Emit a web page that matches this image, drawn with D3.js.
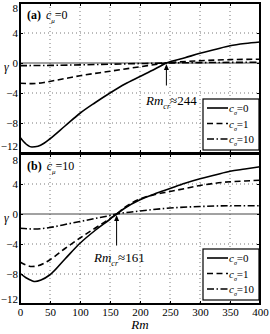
<!DOCTYPE html>
<html>
<head>
<meta charset="utf-8">
<script src="https://cdn.jsdelivr.net/npm/d3@7"></script>
<style>
  body { margin: 0; background: #fff; }
  text { font-family: "Liberation Serif", "DejaVu Serif", serif; fill: #000; }
  .grid line { stroke: #555; stroke-width: 0.8; stroke-dasharray: 1,3; }
  .axis path, .axis line { stroke: #000; }
</style>
</head>
<body>
<script>
// ---- data ----
var xTicks = [0, 50, 100, 150, 200, 250, 300, 350, 400];
var yTicks = [8, 4, 0, -4, -8, -12];

// panel (a) c_mu = 0
var rmA0 = [0, 10, 20, 30, 40, 50, 75, 100, 125, 150, 175, 200, 225, 244, 275, 300, 325, 350, 375, 400];
var gA0 = [-9.9, -10.8, -11.2, -11.1, -10.7, -10.1, -8.4, -6.7, -5.3, -4.0, -2.8, -1.8, -0.8, 0, 0.7, 1.3, 1.8, 2.3, 2.6, 2.8];
var rmA1 = [0, 20, 40, 60, 80, 100, 150, 200, 244, 300, 350, 400];
var gA1 = [-2.7, -2.75, -2.6, -2.3, -2.0, -1.7, -1.1, -0.5, 0, 0.3, 0.45, 0.5];
var rmA10 = [0, 50, 100, 150, 200, 244, 300, 400];
var gA10 = [-0.35, -0.32, -0.25, -0.16, -0.07, 0, 0.05, 0.1];

// panel (b) c_mu = 10
var rmB0 = [0, 10, 20, 25, 35, 50, 75, 100, 125, 150, 161, 175, 200, 225, 250, 275, 300, 325, 350, 375, 400];
var gB0 = [-7.9, -8.5, -8.9, -9.0, -8.8, -8.1, -6.0, -3.9, -2.2, -0.7, 0, 0.8, 1.9, 2.7, 3.4, 4.1, 4.7, 5.2, 5.7, 6.0, 6.3];
var rmB1 = [0, 10, 20, 30, 50, 75, 100, 125, 150, 161, 175, 200, 225, 250, 275, 300, 325, 350, 375, 400];
var gB1 = [-6.4, -6.8, -7.0, -6.9, -6.1, -4.6, -3.2, -1.9, -0.6, 0, 0.9, 2.0, 2.6, 3.0, 3.4, 3.8, 4.1, 4.3, 4.4, 4.5];
var rmB10 = [0, 25, 50, 75, 100, 125, 150, 161, 200, 250, 300, 350, 400];
var gB10 = [-1.9, -2.0, -1.8, -1.4, -1.0, -0.6, -0.2, 0, 0.4, 0.8, 1.0, 1.1, 1.1];

var legendLabels = ['0', '1', '10'];
var dashes = [null, '6,3.5', '7,2.5,1.5,2.5'];

var panels = [
  { tag: '(a)', cmu: '0', top: 3, rmcr: 244, series: [[rmA0, gA0], [rmA1, gA1], [rmA10, gA10]] },
  { tag: '(b)', cmu: '10', top: 154, rmcr: 161, series: [[rmB0, gB0], [rmB1, gB1], [rmB10, gB10]] }
];

var width = 270, height = 334;
var left = 20, right = 260, panelH = 150;

var svg = d3.select('body').append('svg')
  .attr('width', width)
  .attr('height', height);

var x = d3.scaleLinear().domain([0, 400]).range([left, right]);

panels.forEach(function(p, pi) {
  var y = d3.scaleLinear().domain([-12, 8]).range([p.top + panelH, p.top]);
  var g = svg.append('g');

  // dotted grid
  var grid = g.append('g').attr('class', 'grid');
  grid.selectAll('.gx').data(xTicks.slice(1, -1)).enter().append('line')
    .attr('x1', function(d) { return x(d); }).attr('x2', function(d) { return x(d); })
    .attr('y1', y(8)).attr('y2', y(-12));
  grid.selectAll('.gy').data([4, -4, -8]).enter().append('line')
    .attr('x1', x(0)).attr('x2', x(400))
    .attr('y1', function(d) { return y(d); }).attr('y2', function(d) { return y(d); });

  // zero line
  g.append('line')
    .attr('x1', x(0)).attr('x2', x(400))
    .attr('y1', y(0)).attr('y2', y(0))
    .attr('stroke', '#444').attr('stroke-width', 1);

  // curves
  var line = d3.line()
    .x(function(d) { return x(d[0]); })
    .y(function(d) { return y(d[1]); })
    .curve(d3.curveMonotoneX);

  p.series.forEach(function(s, i) {
    var pts = s[0].map(function(r, k) { return [r, s[1][k]]; });
    g.append('path')
      .datum(pts)
      .attr('d', line)
      .attr('fill', 'none')
      .attr('stroke', '#000')
      .attr('stroke-width', 1.6)
      .attr('stroke-dasharray', dashes[i]);
  });

  // axes with inward ticks
  var yAxisL = d3.axisLeft(y).tickValues(yTicks).tickSize(-3).tickPadding(2).tickFormat(d3.format('d'));
  var yAxisR = d3.axisRight(y).tickValues(yTicks).tickSize(-3).tickFormat('');
  var xAxisT = d3.axisTop(x).tickValues(xTicks).tickSize(-3).tickFormat('');
  var xAxisB = d3.axisBottom(x).tickValues(xTicks).tickSize(-3).tickPadding(4)
    .tickFormat(pi === 1 ? d3.format('d') : '');

  var yl = g.append('g').attr('class', 'axis').attr('transform', 'translate(' + left + ',0)').call(yAxisL);
  // nudge the end labels so the two panels' 8 and -12 don't collide
  yl.selectAll('.tick text').attr('dy', function(d) {
    if (d === 8) return pi === 0 ? '0.75em' : '0.9em';
    if (d === -12) return pi === 0 ? '-0.3em' : '-0.1em';
    return '0.32em';
  });
  g.append('g').attr('class', 'axis').attr('transform', 'translate(' + right + ',0)').call(yAxisR);
  g.append('g').attr('class', 'axis').attr('transform', 'translate(0,' + p.top + ')').call(xAxisT);
  g.append('g').attr('class', 'axis').attr('transform', 'translate(0,' + (p.top + panelH) + ')').call(xAxisB);
  g.selectAll('.axis path').remove();
  g.selectAll('.axis text').style('font-family', '"Liberation Serif", serif').style('font-size', '11px');

  // frame
  g.append('rect')
    .attr('x', left).attr('y', p.top)
    .attr('width', right - left).attr('height', panelH)
    .attr('fill', 'none').attr('stroke', '#000').attr('stroke-width', 2);

  // panel label
  var lab = g.append('text').attr('x', 27).attr('y', p.top + 16).style('font-size', '12px');
  lab.append('tspan').attr('font-weight', 'bold').text(p.tag + ' ');
  lab.append('tspan').attr('font-style', 'italic').attr('dx', 2).text('c');
  lab.append('tspan').attr('font-style', 'italic').attr('dy', 4).style('font-size', '7px').text('\u03bc');
  lab.append('tspan').attr('dy', -4).text('=' + p.cmu);

  // gamma label
  g.append('text').attr('x', 4).attr('y', y(0) + 8)
    .attr('font-style', 'italic').style('font-size', '12px').text('\u03b3');

  // Rm_cr annotation
  var ax = x(p.rmcr);
  var arrowBottom = pi === 0 ? y(-3) : y(-4.2);
  g.append('line')
    .attr('x1', ax).attr('x2', ax)
    .attr('y1', arrowBottom).attr('y2', y(0) + 6)
    .attr('stroke', '#000').attr('stroke-width', 1);
  g.append('path')
    .attr('d', 'M' + (ax - 2.5) + ',' + (y(0) + 7) + 'L' + ax + ',' + (y(0) + 1) + 'L' + (ax + 2.5) + ',' + (y(0) + 7) + 'Z')
    .attr('fill', '#000');
  var ann = g.append('text')
    .attr('x', pi === 0 ? 146 : 94)
    .attr('y', pi === 0 ? y(-5.6) : y(-6.4))
    .style('font-size', '13px');
  ann.append('tspan').attr('font-style', 'italic').text('Rm');
  ann.append('tspan').attr('font-style', 'italic').attr('dy', 4).style('font-size', '8px').text('cr');
  ann.append('tspan').attr('dy', -4).text('\u2248' + p.rmcr);

  // legend
  var lx = 203, ly = pi === 0 ? p.top + 96 : p.top + 95, lw = 56, lh = 51;
  var leg = g.append('g');
  leg.append('rect')
    .attr('x', lx).attr('y', ly).attr('width', lw).attr('height', lh)
    .attr('fill', '#fff').attr('stroke', '#000').attr('stroke-width', 1.2);
  legendLabels.forEach(function(t, i) {
    var ry = ly + 9 + i * 15.5;
    leg.append('line')
      .attr('x1', lx + 4).attr('x2', lx + 25)
      .attr('y1', ry).attr('y2', ry)
      .attr('stroke', '#000').attr('stroke-width', 1.6)
      .attr('stroke-dasharray', dashes[i]);
    var tx = leg.append('text').attr('x', lx + 26).attr('y', ry + 4).style('font-size', '11px');
    tx.append('tspan').attr('font-style', 'italic').text('c');
    tx.append('tspan').attr('font-style', 'italic').attr('dy', 3).style('font-size', '6px').text('\u03c3');
    tx.append('tspan').attr('dy', -3).text('=' + t);
  });
});

// x label
svg.append('text')
  .attr('x', x(200)).attr('y', 329)
  .attr('text-anchor', 'middle')
  .attr('font-style', 'italic')
  .style('font-size', '13px')
  .text('Rm');
</script>
</body>
</html>
